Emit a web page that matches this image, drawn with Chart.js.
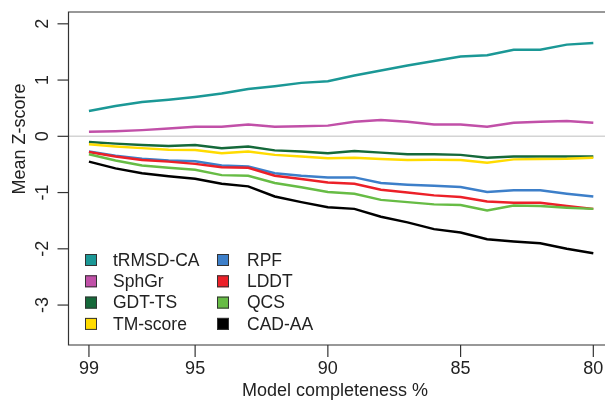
<!DOCTYPE html>
<html>
<head>
<meta charset="utf-8">
<script src="https://cdn.jsdelivr.net/npm/chart.js@4"></script>
<style>
    body { margin: 0; background: #fff; }
    canvas { display: block; }
</style>
</head>
<body>
<canvas id="chart_z" width="605" height="404"></canvas>
<script>
// Dados
const completeness = [99, 98, 97, 96, 95, 94, 93, 92, 91, 90, 89, 88, 87, 86, 85, 84, 83, 82, 81, 80]
const xTicks = [99, 95, 90, 85, 80]
const yTicks = [2, 1, 0, -1, -2, -3]

const tRMSD = [0.45, 0.54, 0.61, 0.65, 0.70, 0.76, 0.84, 0.89, 0.95, 0.98, 1.08, 1.17, 1.26, 1.34, 1.42, 1.44, 1.54, 1.54, 1.63, 1.66]
const sphGr = [0.08, 0.09, 0.11, 0.14, 0.17, 0.17, 0.21, 0.17, 0.18, 0.19, 0.26, 0.29, 0.26, 0.21, 0.21, 0.17, 0.24, 0.26, 0.27, 0.24]
const gdtTs = [-0.10, -0.13, -0.155, -0.17, -0.155, -0.21, -0.18, -0.25, -0.27, -0.30, -0.26, -0.29, -0.32, -0.32, -0.33, -0.38, -0.36, -0.36, -0.36, -0.36]
const tmScore = [-0.14, -0.18, -0.21, -0.24, -0.245, -0.30, -0.27, -0.33, -0.36, -0.39, -0.38, -0.405, -0.42, -0.415, -0.42, -0.47, -0.41, -0.405, -0.40, -0.38]
const rpf = [-0.27, -0.345, -0.40, -0.43, -0.445, -0.52, -0.535, -0.655, -0.70, -0.73, -0.73, -0.83, -0.86, -0.88, -0.90, -0.99, -0.96, -0.96, -1.02, -1.07]
const lddt = [-0.28, -0.36, -0.42, -0.45, -0.49, -0.55, -0.56, -0.70, -0.76, -0.82, -0.845, -0.95, -1.00, -1.05, -1.08, -1.16, -1.18, -1.18, -1.24, -1.29]
const qcs = [-0.32, -0.43, -0.52, -0.56, -0.595, -0.69, -0.70, -0.83, -0.905, -0.99, -1.02, -1.13, -1.17, -1.21, -1.22, -1.32, -1.23, -1.24, -1.27, -1.29]
const cadAa = [-0.45, -0.57, -0.655, -0.71, -0.755, -0.845, -0.89, -1.07, -1.17, -1.26, -1.29, -1.43, -1.53, -1.65, -1.71, -1.83, -1.87, -1.90, -2.00, -2.08]

const seriesNames = ['tRMSD-CA', 'SphGr', 'GDT-TS', 'TM-score', 'RPF', 'LDDT', 'QCS', 'CAD-AA']
const seriesValues = [tRMSD, sphGr, gdtTs, tmScore, rpf, lddt, qcs, cadAa]
const seriesColors = ['#1b9896', '#c150a8', '#15693a', '#ffdb00', '#3d7fc9', '#ec2028', '#67bc45', '#000000']

const FONT = '18px "Liberation Sans", Arial, sans-serif'
const LEGEND_FONT = '17.5px "Liberation Sans", Arial, sans-serif'
const INK = '#222'

// Eixos no estilo do R (caixa, ticks para fora, rótulos)
const rAxes = {
    id: 'rAxes',
    beforeDatasetsDraw(chart) {
        const ctx = chart.ctx
        const a = chart.chartArea
        const y0 = chart.scales.y.getPixelForValue(0)
        ctx.save()
        ctx.strokeStyle = '#d4d4d4'
        ctx.lineWidth = 1.5
        ctx.beginPath()
        ctx.moveTo(a.left, y0)
        ctx.lineTo(a.right, y0)
        ctx.stroke()
        ctx.restore()
    },
    afterDraw(chart) {
        const ctx = chart.ctx
        const a = chart.chartArea
        const xs = chart.scales.x
        const ys = chart.scales.y
        ctx.save()
        ctx.strokeStyle = '#333'
        ctx.lineWidth = 1.2
        ctx.beginPath()
        ctx.moveTo(a.right + 5, a.top)
        ctx.lineTo(a.left, a.top)
        ctx.lineTo(a.left, a.bottom)
        ctx.lineTo(a.right + 5, a.bottom)
        ctx.stroke()

        ctx.fillStyle = INK
        ctx.font = FONT
        // eixo x
        ctx.textAlign = 'center'
        ctx.textBaseline = 'middle'
        xTicks.forEach(t => {
            const px = xs.getPixelForValue(t)
            ctx.beginPath()
            ctx.moveTo(px, a.bottom)
            ctx.lineTo(px, a.bottom + 12)
            ctx.stroke()
            ctx.fillText(String(t), px, 369)
        })
        ctx.fillText('Model completeness %', 335, 391)

        // eixo y
        yTicks.forEach(t => {
            const py = ys.getPixelForValue(t)
            ctx.beginPath()
            ctx.moveTo(a.left, py)
            ctx.lineTo(a.left - 11, py)
            ctx.stroke()
            ctx.save()
            ctx.translate(43, py)
            ctx.rotate(-Math.PI / 2)
            ctx.fillText(String(t), 0, 0)
            ctx.restore()
        })
        ctx.save()
        ctx.translate(20, 139)
        ctx.rotate(-Math.PI / 2)
        ctx.fillText('Mean Z-score', 0, 0)
        ctx.restore()

        // legenda em duas colunas
        ctx.font = LEGEND_FONT
        const cols = [[85, 113], [217, 247]]
        chart.data.datasets.forEach((ds, i) => {
            const c = cols[Math.floor(i / 4)]
            const cy = 260 + (i % 4) * 21.3
            ctx.fillStyle = ds.borderColor
            ctx.fillRect(c[0], cy - 6, 12, 12)
            ctx.strokeStyle = '#333'
            ctx.lineWidth = 1
            ctx.strokeRect(c[0] + 0.5, cy - 5.5, 11, 11)
            ctx.fillStyle = INK
            ctx.textAlign = 'left'
            ctx.fillText(ds.label, c[1], cy + 1)
        })
        ctx.restore()
    }
}

const chart = new Chart(document.getElementById('chart_z'), {
    type: 'line',
    data: {
        datasets: seriesNames.map((name, i) => ({
            label: name,
            data: completeness.map((x, j) => ({ x: x, y: seriesValues[i][j] })),
            borderColor: seriesColors[i],
            backgroundColor: seriesColors[i],
            borderWidth: 2.5,
            pointRadius: 0,
            tension: 0,
            // o último da lista fica por cima
            order: seriesNames.length - i
        }))
    },
    options: {
        responsive: false,
        animation: false,
        devicePixelRatio: 1,
        layout: { padding: { top: 12, left: 0, right: 0, bottom: 0 } },
        plugins: {
            legend: { display: false },
            tooltip: { enabled: false }
        },
        scales: {
            x: {
                type: 'linear',
                reverse: true,
                min: 79.56,
                max: 99.77,
                grid: { display: false },
                border: { display: false },
                ticks: { display: false },
                afterFit: (s) => { s.height = 59 }
            },
            y: {
                min: -3.71,
                max: 2.21,
                grid: { display: false },
                border: { display: false },
                ticks: { display: false },
                afterFit: (s) => { s.width = 68.5 }
            }
        }
    },
    plugins: [rAxes]
});
</script>
</body>
</html>
